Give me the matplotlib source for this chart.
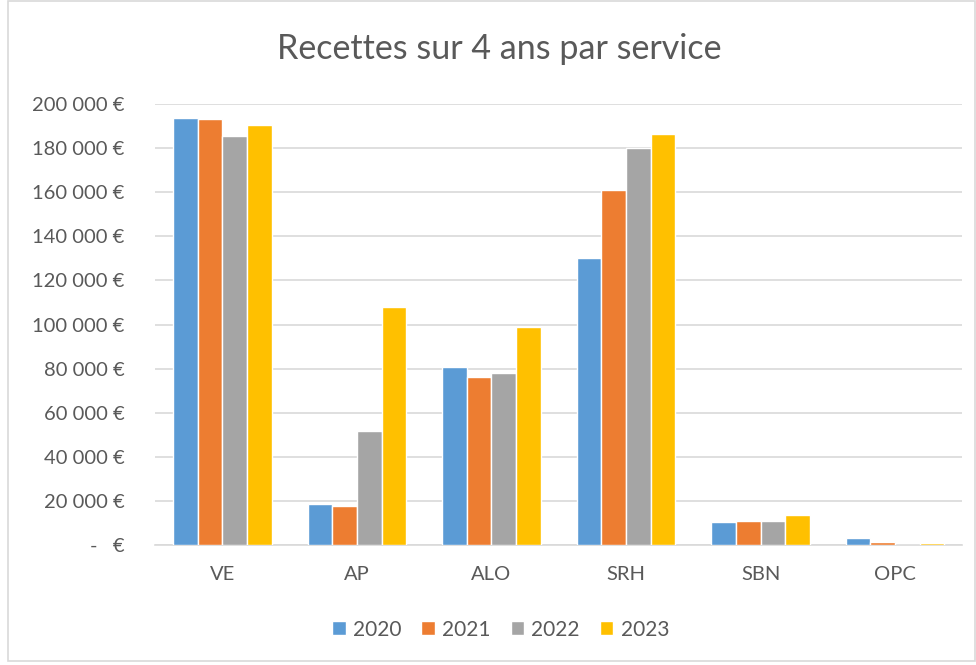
import numpy as np
import matplotlib.pyplot as plt
from matplotlib.ticker import FuncFormatter
from matplotlib.patches import Rectangle

plt.rcParams['font.family'] = ['Lato', 'DejaVu Sans']

# data
services = ['VE', 'AP', 'ALO', 'SRH', 'SBN', 'OPC']
years = ['2020', '2021', '2022', '2023']
r2020 = [193500, 18800, 80700, 130200, 10400, 3500]
r2021 = [193200, 17900, 76300, 160800, 11000, 1300]
r2022 = [185400, 51700, 78000, 179800, 11000, 0]
r2023 = [190400, 107800, 98900, 186500, 13600, 1200]
colors = ['#5B9BD5', '#ED7D31', '#A5A5A5', '#FFC000']

text_col = '#595959'

fig = plt.figure(figsize=(9.76, 6.65), dpi=100)
ax = fig.add_axes([0.159, 0.180, 0.827, 0.664])

# light border round the chart area
fig.patches.append(Rectangle((0.008, 0.006), 0.991, 0.993, transform=fig.transFigure,
                             fill=False, edgecolor='#D9D9D9', linewidth=1.2))

x = np.arange(len(services))
w = 0.183
for i, (vals, c, yr) in enumerate(zip([r2020, r2021, r2022, r2023], colors, years)):
    ax.bar(x + (i - 1.5) * w, vals, width=w, color=c, edgecolor='white',
           linewidth=1.0, label=yr, zorder=3)

ax.set_xlim(-0.5, len(services) - 0.5)
ax.set_ylim(0, 200000)
ax.set_yticks(np.arange(0, 200001, 20000))


def fmt(v, pos):
    if v == 0:
        return '-   €'
    return '{:,.0f} €'.format(v).replace(',', ' ')


ax.yaxis.set_major_formatter(FuncFormatter(fmt))
ax.set_xticks(x)
ax.set_xticklabels(services)
ax.grid(axis='y', color='#D9D9D9', linewidth=1.2, zorder=0)
for s in ['top', 'right', 'left']:
    ax.spines[s].set_visible(False)
ax.spines['bottom'].set_color('#D9D9D9')
ax.spines['bottom'].set_linewidth(1.2)
ax.tick_params(axis='both', length=0, labelsize=14.5, colors=text_col)
ax.tick_params(axis='y', pad=22)
ax.tick_params(axis='x', pad=15)

fig.text(0.512, 0.927, 'Recettes sur 4 ans par service', ha='center', va='center',
         fontsize=24.5, color=text_col)

leg = fig.legend(loc='center', bbox_to_anchor=(0.513, 0.053), ncol=4, frameon=False,
                 fontsize=15, handlelength=0.65, handleheight=0.65,
                 handletextpad=0.35, columnspacing=0.95)
for t in leg.get_texts():
    t.set_color(text_col)

fig.savefig('out.png', dpi=100)
